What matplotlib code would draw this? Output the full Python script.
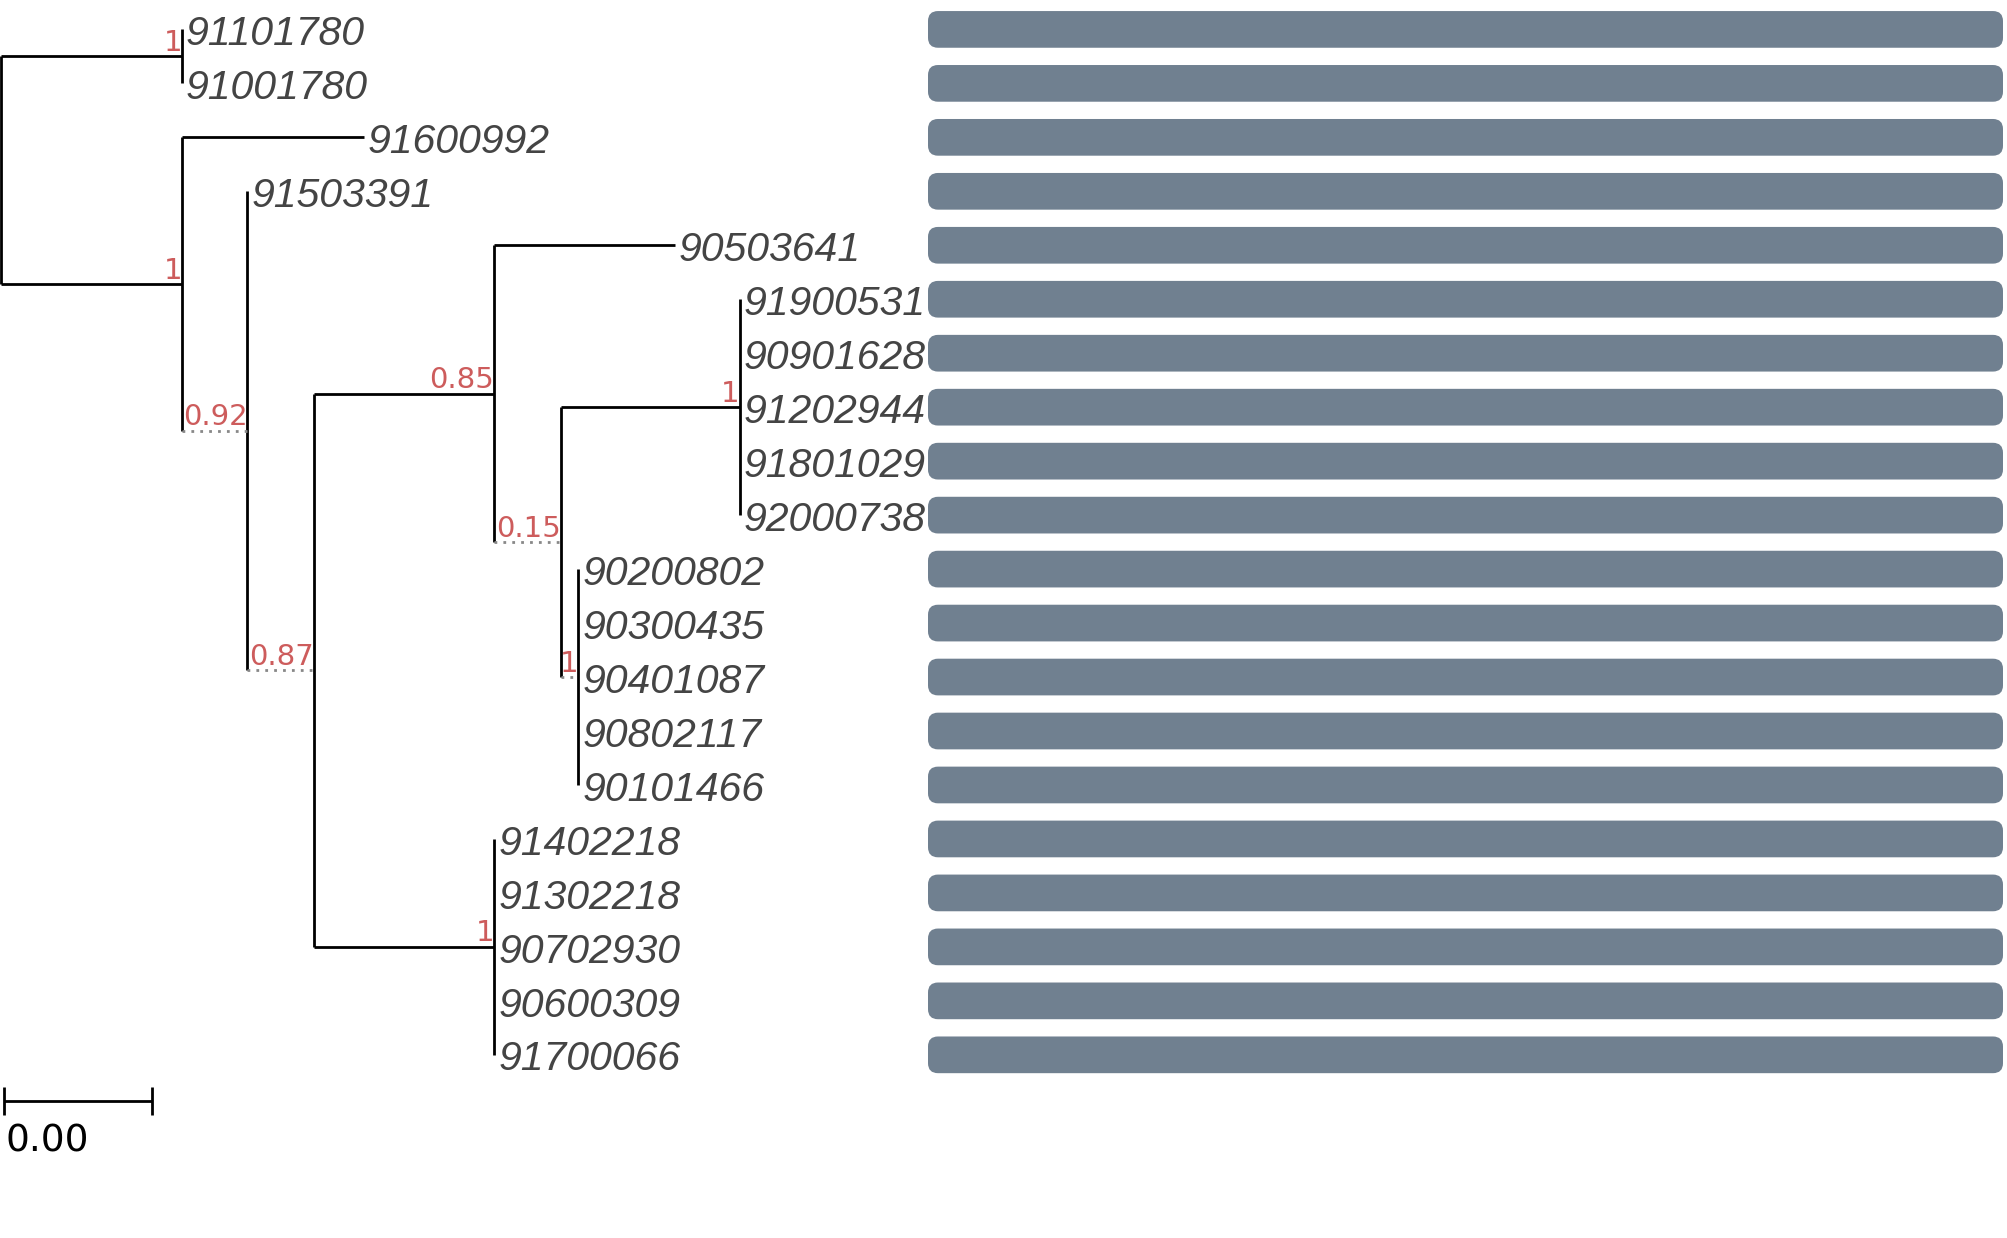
import matplotlib
matplotlib.use("Agg")
import matplotlib.pyplot as plt
from matplotlib.patches import FancyBboxPatch

# ---------- data ----------
tip_labels = ['91101780', '91001780', '91600992', '91503391', '90503641',
              '91900531', '90901628', '91202944', '91801029', '92000738',
              '90200802', '90300435', '90401087', '90802117', '90101466',
              '91402218', '91302218', '90702930', '90600309', '91700066']

# tree edges: node, parent, branch length, support, dotted branch
node_name = ['A', 'B', '91101780', '91001780', '91600992', 'C', '91503391', 'D',
             'E', '90503641', 'F', 'G', '91900531', '90901628', '91202944',
             '91801029', '92000738', 'H', '90200802', '90300435', '90401087',
             '90802117', '90101466', 'I', '91402218', '91302218', '90702930',
             '90600309', '91700066']
node_parent = ['root', 'root', 'A', 'A', 'B', 'B', 'C', 'C',
               'D', 'E', 'E', 'F', 'G', 'G', 'G',
               'G', 'G', 'F', 'H', 'H', 'H',
               'H', 'H', 'D', 'I', 'I', 'I',
               'I', 'I']
branch_len = [0.00365, 0.00365, 0, 0, 0.00367, 0.00132, 0, 0.00134,
              0.00365, 0.00365, 0.00134, 0.00362, 0, 0, 0,
              0, 0, 0.00036, 0, 0, 0,
              0, 0, 0.00365, 0, 0, 0,
              0, 0]
support = {'A': '1', 'B': '1', 'C': '0.92', 'D': '0.87', 'E': '0.85',
           'F': '0.15', 'G': '1', 'H': '1', 'I': '1'}
dotted = ['C', 'D', 'F', 'H']

bar_values = [1, 1, 1, 1, 1, 1, 1, 1, 1, 1, 1, 1, 1, 1, 1, 1, 1, 1, 1, 1]
scale_len = 0.003

# ---------- layout ----------
W, H = 2007, 1238
px_per_unit = 148.5 / scale_len
row_px = 53.97
row0_px = 29.4
tree_w = 928

fig = plt.figure(figsize=(W / 100, H / 100), dpi=100)
ax = fig.add_axes([0, 0, tree_w / W, 1])
ax.set_xlim(-1.3 / px_per_unit, (tree_w - 1.3) / px_per_unit)
ax.set_ylim((H - row0_px) / row_px, -row0_px / row_px)
ax.axis('off')

# positions
children = {}
for n, p in zip(node_name, node_parent):
    children.setdefault(p, []).append(n)
xpos = {'root': 0.0}
for n, p, b in zip(node_name, node_parent, branch_len):
    xpos[n] = xpos[p] + b
ypos = {t: i for i, t in enumerate(tip_labels)}

def get_y(n):
    if n in ypos:
        return ypos[n]
    ys = [get_y(c) for c in children[n]]
    ypos[n] = (min(ys) + max(ys)) / 2
    return ypos[n]

get_y('root')

line_kw = dict(color='black', lw=2.0, solid_capstyle='butt')
for p, kids in children.items():
    ys = [ypos[c] for c in kids]
    ax.plot([xpos[p], xpos[p]], [min(ys), max(ys)], **line_kw)
for n, p in zip(node_name, node_parent):
    if xpos[n] == xpos[p]:
        continue
    if n in dotted:
        ax.plot([xpos[p], xpos[n]], [ypos[n], ypos[n]], color='#888888',
                lw=2.0, ls=(0, (1, 2.2)))
    else:
        ax.plot([xpos[p], xpos[n]], [ypos[n], ypos[n]], **line_kw)

# support values
for n, s in support.items():
    ax.text(xpos[n], ypos[n] - 0.1, s, ha='right', va='baseline',
            color='#CD5C5C', fontsize=21, family='DejaVu Sans')

# tip labels
for t in tip_labels:
    ax.text(xpos[t] + 4 / px_per_unit, ypos[t] + 0.29, t, ha='left',
            va='baseline', fontsize=29.5, style='italic', color='#444444',
            family='Liberation Sans', clip_on=False)

# scale bar
sb_y = (1101 - row0_px) / row_px
sb_x0 = 2.5 / px_per_unit
ax.plot([sb_x0, sb_x0 + scale_len], [sb_y, sb_y], **line_kw)
for xx in (sb_x0, sb_x0 + scale_len):
    ax.plot([xx, xx], [sb_y - 0.26, sb_y + 0.26], **line_kw)
ax.text(sb_x0 + 1.5 / px_per_unit, (1152 - row0_px) / row_px,
        f'{scale_len:.2f}', ha='left', va='baseline', fontsize=27,
        family='DejaVu Sans', color='black')

# bars
bx0, bx1 = 928, 2003
bax = fig.add_axes([bx0 / W, 0, (bx1 - bx0) / W, 1])
bax.set_xlim(0, 1)
bax.set_ylim((H - row0_px) / row_px, -row0_px / row_px)
bax.axis('off')
aspect = (bx1 - bx0) / row_px
bar_h = 0.68
for i, v in enumerate(bar_values):
    bax.add_patch(FancyBboxPatch((0, i - bar_h / 2), v, bar_h,
                                 boxstyle='round,pad=0,rounding_size=0.0093',
                                 mutation_aspect=aspect, fc='#708090',
                                 ec='none'))

fig.savefig('out.png', dpi=100)
